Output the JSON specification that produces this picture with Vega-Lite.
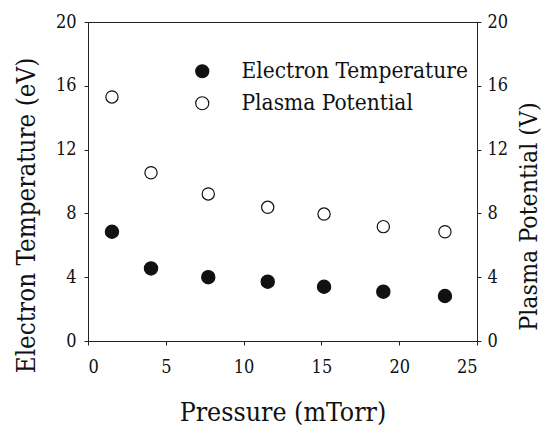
{
  "$schema": "https://vega.github.io/schema/vega-lite/v6.json",
  "width": 389,
  "height": 319,
  "autosize": {"type": "none"},
  "padding": {"left": 88, "top": 22, "right": 68, "bottom": 87},
  "background": "white",
  "config": {
    "font": "DejaVu Serif Condensed",
    "view": {"stroke": "#222", "strokeWidth": 1},
    "axis": {
      "grid": false,
      "domainColor": "#222",
      "tickColor": "#222",
      "tickSize": 4,
      "labelFont": "DejaVu Serif Condensed",
      "labelFontSize": 18,
      "labelColor": "#111",
      "titleFont": "DejaVu Serif Condensed",
      "titleFontSize": 27,
      "titleFontWeight": "normal",
      "titleColor": "#111"
    },
    "legend": {
      "labelFont": "DejaVu Serif Condensed",
      "labelLimit": 0
    }
  },
  "data": {
    "values": [
      {"pressure": 1.54, "value": 6.85, "series": "Electron Temperature"},
      {"pressure": 4.05, "value": 4.55, "series": "Electron Temperature"},
      {"pressure": 7.73, "value": 4.0, "series": "Electron Temperature"},
      {"pressure": 11.55, "value": 3.72, "series": "Electron Temperature"},
      {"pressure": 15.17, "value": 3.4, "series": "Electron Temperature"},
      {"pressure": 18.98, "value": 3.09, "series": "Electron Temperature"},
      {"pressure": 22.94, "value": 2.82, "series": "Electron Temperature"},
      {"pressure": 1.54, "value": 15.3, "series": "Plasma Potential"},
      {"pressure": 4.05, "value": 10.55, "series": "Plasma Potential"},
      {"pressure": 7.73, "value": 9.22, "series": "Plasma Potential"},
      {"pressure": 11.55, "value": 8.38, "series": "Plasma Potential"},
      {"pressure": 15.17, "value": 7.96, "series": "Plasma Potential"},
      {"pressure": 18.98, "value": 7.17, "series": "Plasma Potential"},
      {"pressure": 22.94, "value": 6.85, "series": "Plasma Potential"}
    ]
  },
  "encoding": {
    "x": {
      "field": "pressure",
      "type": "quantitative",
      "scale": {"domain": [0, 25], "nice": false, "zero": false},
      "axis": {
        "title": "Pressure (mTorr)",
        "values": [0, 5, 10, 15, 20, 25],
        "labelPadding": 13,
        "titleFontSize": 26.5,
        "titleBaseline": "alphabetic",
        "titleY": 79
      }
    },
    "fill": {
      "field": "series",
      "type": "nominal",
      "scale": {"domain": ["Electron Temperature", "Plasma Potential"], "range": ["#111", "white"]},
      "legend": {
        "title": null,
        "orient": "none",
        "legendX": 103,
        "legendY": 38,
        "padding": 0,
        "labelFontSize": 22.5,
        "labelColor": "#111",
        "labelOffset": 28,
        "labelLimit": 0,
        "rowPadding": 9,
        "symbolType": "circle",
        "symbolSize": 170,
        "symbolStrokeColor": "#111",
        "symbolStrokeWidth": 1.2
      }
    }
  },
  "layer": [
    {
      "transform": [{"filter": "datum.series === 'Electron Temperature'"}],
      "mark": {"type": "point", "shape": "circle", "size": 175, "stroke": "#111", "strokeWidth": 1.2, "opacity": 1, "fillOpacity": 1},
      "encoding": {
        "y": {
          "field": "value",
          "type": "quantitative",
          "scale": {"domain": [0, 20], "nice": false},
          "axis": {
            "title": "Electron Temperature (eV)",
            "orient": "left",
            "values": [0, 4, 8, 12, 16, 20],
            "labelPadding": 8,
            "titleFontSize": 25.8,
            "titleAngle": 270,
            "titleBaseline": "middle",
            "titleX": -62,
            "titleY": 193
          }
        }
      }
    },
    {
      "transform": [{"filter": "datum.series === 'Plasma Potential'"}],
      "mark": {"type": "point", "shape": "circle", "size": 150, "stroke": "#111", "strokeWidth": 1.2, "opacity": 1, "fillOpacity": 1},
      "encoding": {
        "y": {
          "field": "value",
          "type": "quantitative",
          "scale": {"domain": [0, 20], "nice": false},
          "axis": {
            "title": "Plasma Potential (V)",
            "orient": "right",
            "values": [0, 4, 8, 12, 16, 20],
            "labelPadding": 6,
            "titleFontSize": 24.7,
            "titleAngle": 270,
            "titleBaseline": "middle",
            "titleX": 52,
            "titleY": 194
          }
        }
      }
    }
  ],
  "resolve": {"scale": {"y": "independent"}}
}
